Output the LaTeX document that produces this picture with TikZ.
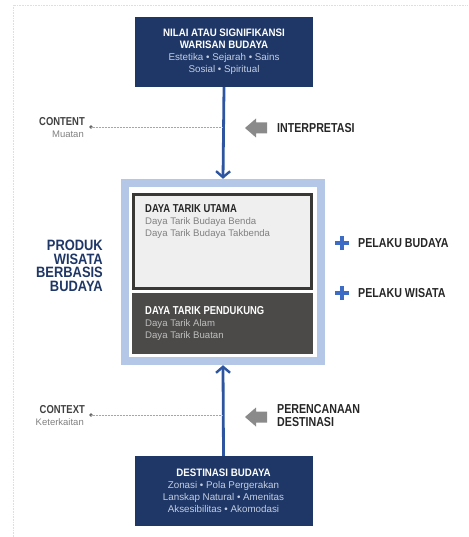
\documentclass[tikz,border=0pt]{standalone}
\usepackage{fontspec}
\setmainfont{Liberation Sans}
\newfontfamily\hfam[FakeStretch=0.9]{Liberation Sans}
\newfontfamily\sfam[FakeStretch=0.82]{Liberation Sans}
\newfontfamily\tfam[FakeStretch=0.86]{Liberation Sans}
\usetikzlibrary{arrows.meta}
\definecolor{navy}{HTML}{1F3766}
\definecolor{flowblue}{HTML}{2D55A0}
\definecolor{paleblue}{HTML}{B4C7E7}
\definecolor{lightfill}{HTML}{EFEFEF}
\definecolor{darkframe}{HTML}{3A3835}
\definecolor{darkfill}{HTML}{4B4A49}
\definecolor{plusblue}{HTML}{3C6CC4}
\definecolor{subtxt}{HTML}{C3CEE3}
\definecolor{arrgray}{HTML}{8A8A8A}
% line fonts
\newcommand{\navyhead}{\hfam\bfseries\fontsize{10.8}{12}\selectfont\color{white}}
\newcommand{\navysub}{\rmfamily\mdseries\fontsize{9.8}{11.6}\selectfont\color{subtxt}}
\newcommand{\boxhead}{\sfam\bfseries\fontsize{11.5}{12}\selectfont}
\newcommand{\boxsub}{\rmfamily\mdseries\fontsize{9.6}{10.5}\selectfont}
\begin{document}
\begin{tikzpicture}[x=1pt,y=-1pt,
  navybox/.style={fill=navy,draw=none,minimum width=178pt,minimum height=70pt,
    align=center,inner sep=0pt},
  flow/.style={draw=flowblue,line width=2.8pt,-{Straight Barb[length=6pt,width=14pt,line width=2.4pt]}},
  leader/.style={draw=gray!70,densely dotted,line width=0.5pt},
  sidehead/.style={font=\sfam\bfseries\fontsize{13}{13}\selectfont,text=black!85,anchor=west,align=left,inner sep=0pt},
  tag/.style={font=\sfam\bfseries\fontsize{11.5}{12}\selectfont,text=black!75,anchor=east,inner sep=0pt},
  subtag/.style={font=\rmfamily\fontsize{9.5}{10}\selectfont,text=black!50,anchor=east,inner sep=0pt},
  plus/.style={draw=plusblue,line width=3.6pt},
  intxt/.style={anchor=north west,align=left,inner sep=0pt},
]
\useasboundingbox (0,0) rectangle (468,537);
% faint page frame
\draw[gray!25,densely dotted,line width=0.6pt] (13,537) -- (13,5) -- (468,5);

% top source box
\node[navybox] (nilai) at (224,52) {\navyhead NILAI ATAU SIGNIFIKANSI\\\navyhead WARISAN BUDAYA\\
  \navysub Estetika \textbullet{} Sejarah \textbullet{} Sains\\\navysub Sosial \textbullet{} Spiritual};

% bottom destination box
\node[navybox] (dest) at (223.5,491) {\navyhead DESTINASI BUDAYA\\
  \navysub Zonasi \textbullet{} Pola Pergerakan\\\navysub Lanskap Natural \textbullet{} Amenitas\\
  \navysub Aksesibilitas \textbullet{} Akomodasi};

% central product frame: pale blue band, white gap, two panels
\node[fill=paleblue,draw=none,minimum width=204pt,minimum height=186pt,inner sep=0pt] (produk) at (223,272) {};
\node[fill=white,minimum width=188pt,minimum height=170pt,inner sep=0pt] (gap) at (223,272) {};
\node[fill=lightfill,draw=darkframe,line width=3pt,minimum width=178pt,minimum height=94pt,inner sep=0pt] (utama) at (222.5,241.5) {};
\node[fill=darkfill,draw=none,minimum width=181pt,minimum height=61pt,inner sep=0pt] (pendukung) at (222.5,323) {};

\node[intxt] (utamatxt) at (145,204) {\boxhead\color{black!85}DAYA TARIK UTAMA\\
  \boxsub\color{black!50}Daya Tarik Budaya Benda\\\boxsub\color{black!50}Daya Tarik Budaya Takbenda};
\node[intxt] (pendtxt) at (145,306) {\boxhead\color{white}DAYA TARIK PENDUKUNG\\
  \boxsub\color{black!25}Daya Tarik Alam\\\boxsub\color{black!25}Daya Tarik Buatan};

% product title on the left
\node[anchor=east,align=right,inner sep=0pt,text=navy,
  font=\tfam\bfseries\fontsize{15}{13.6}\selectfont] (title) at (103,266) {PRODUK\\WISATA\\BERBASIS\\BUDAYA};

% actors on the right
\coordinate (plus1) at (342,243);
\draw[plus] ([xshift=-7pt]plus1) -- ([xshift=7pt]plus1) ([yshift=-7pt]plus1) -- ([yshift=7pt]plus1);
\node[sidehead] (pbud) at (358,243) {PELAKU BUDAYA};
\coordinate (plus2) at (342,293);
\draw[plus] ([xshift=-7pt]plus2) -- ([xshift=7pt]plus2) ([yshift=-7pt]plus2) -- ([yshift=7pt]plus2);
\node[sidehead] (pwis) at (358,293) {PELAKU WISATA};

% main flows
\draw[flow] (nilai.south) -- (produk.north);
\draw[flow] (dest.north) -- (produk.south);

% content leader
\coordinate (cline) at (222,127);
\coordinate (cdot) at (91,127);
\fill[gray!80!black] (cdot) circle (1.8pt);
\draw[leader] (cdot) -- (cline);
\node[tag] (content) at (85,122) {CONTENT};
\node[subtag] (muatan) at (84,134) {Muatan};
\coordinate (arr1) at (245,128);
\fill[arrgray] (arr1) -- ++(11,-9.5) -- ++(0,4) -- ++(11,0) -- ++(0,11) -- ++(-11,0) -- ++(0,4) -- cycle;
\node[sidehead] (interp) at (277,128) {INTERPRETASI};

% context leader
\coordinate (xline) at (222,415);
\coordinate (xdot) at (91,415);
\fill[gray!80!black] (xdot) circle (1.8pt);
\draw[leader] (xdot) -- (xline);
\node[tag] (context) at (85,410) {CONTEXT};
\node[subtag] (keterk) at (84,422) {Keterkaitan};
\coordinate (arr2) at (245,417);
\fill[arrgray] (arr2) -- ++(11,-9.5) -- ++(0,4) -- ++(11,0) -- ++(0,11) -- ++(-11,0) -- ++(0,4) -- cycle;
\node[sidehead,anchor=north west,font=\sfam\bfseries\fontsize{13}{13.5}\selectfont] (renc) at (277,404) {PERENCANAAN\\DESTINASI};
\end{tikzpicture}
\end{document}
